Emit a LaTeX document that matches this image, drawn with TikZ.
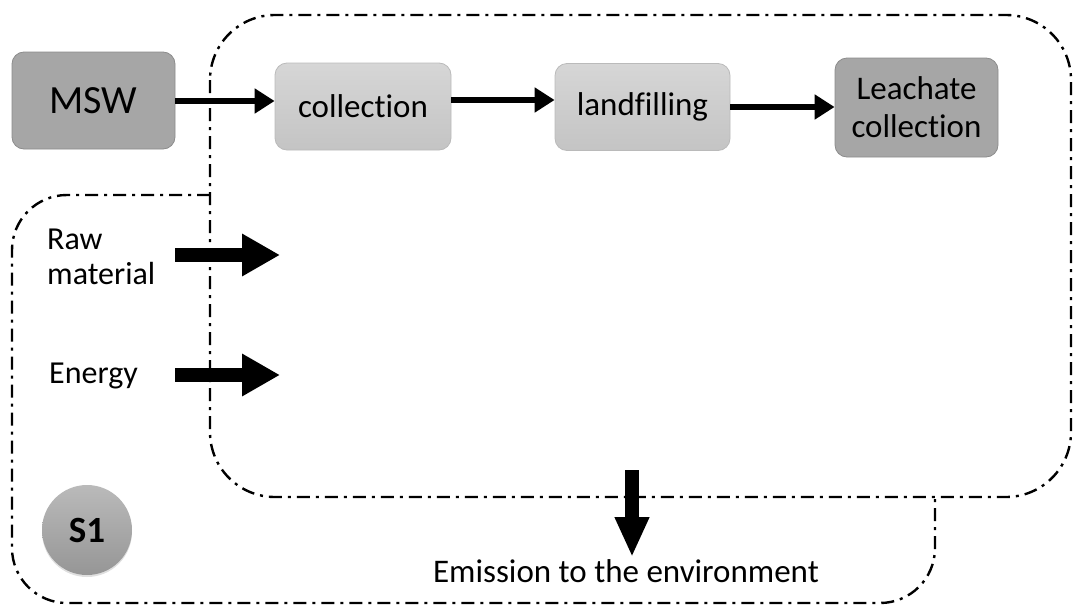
\documentclass[tikz,border=0pt]{standalone}
\usepackage{fontspec}
\setmainfont[Ligatures=NoCommon]{Carlito}
\usetikzlibrary{arrows.meta,shadows}
\definecolor{darkbox}{RGB}{166,166,166}
\definecolor{lighttop}{RGB}{214,214,214}
\definecolor{lightbot}{RGB}{196,196,196}
\definecolor{boxline}{RGB}{140,140,140}
\definecolor{circtop}{RGB}{186,186,186}
\definecolor{circbot}{RGB}{150,150,150}
\tikzset{
  dd/.style={line width=2.4pt, dash pattern=on 13pt off 6pt on 3pt off 6pt},
  darkstep/.style={draw=boxline, line width=0.8pt, fill=darkbox, rounded corners=12pt, inner sep=0pt, align=center},
  lightstep/.style={draw=boxline!60, line width=0.8pt, top color=lighttop, bottom color=lightbot, rounded corners=12pt, inner sep=0pt, align=center},
  flow/.style={line width=6pt, -{Triangle[length=20pt,width=24pt]}},
  bigflow/.style={line width=14pt, -{Triangle[length=38pt,width=40pt]}},
  lbl/.style={font=\fontsize{32}{35}\selectfont, align=left, inner sep=0pt},
}
\begin{document}
\begin{tikzpicture}[x=1pt,y=-1pt]
\useasboundingbox (0,0) rectangle (1073,608);
% boundaries
\draw[dd, rounded corners=65pt] (210,15) rectangle (1071,497);
\draw[dd, rounded corners=55pt] (210,195) -- (12,195) -- (12,603) -- (935,603) -- (935,497);
% process boxes
\node[darkstep, minimum width=163pt, minimum height=97pt, font=\fontsize{40}{44}\selectfont] (msw) at (93.5,100.5) {MSW};
\node[lightstep, minimum width=176pt, minimum height=87pt, font=\fontsize{33}{38}\selectfont] (coll) at (363,106.5) {collection};
\node[lightstep, minimum width=175pt, minimum height=87pt, font=\fontsize{33}{38}\selectfont] (land) at (642.5,107) {landfilling};
\node[darkstep, minimum width=163pt, minimum height=99pt, font=\fontsize{33}{38}\selectfont] (leach) at (916.5,107.5) {Leachate\\collection};
% connectors
\draw[flow] (msw.east |- 0,101) -- (coll.west |- 0,101);
\draw[flow] (coll.east |- 0,100) -- (land.west |- 0,100);
\draw[flow] (land.east |- 0,107) -- (leach.west |- 0,107);
% inputs
\node[lbl, anchor=west] (raw) at (47,257) {Raw\\material};
\node[lbl, anchor=west] (energy) at (49,376) {Energy};
\coordinate (rawS) at (175,255);
\coordinate (rawE) at (280,255);
\coordinate (enS) at (175,375);
\coordinate (enE) at (280,375);
\draw[bigflow] (rawS) -- (rawE);
\draw[bigflow] (enS) -- (enE);
% emission
\node[lbl, anchor=north, font=\fontsize{33}{38}\selectfont] (emis) at (626,559) {Emission to the environment};
\coordinate (emS) at (632,470);
\coordinate (emE) at (632,557);
\draw[line width=14pt, -{Triangle[length=40pt,width=32pt]}] (emS) -- (emE);
% S1
\node[circle, minimum size=90pt, inner sep=0pt, top color=circtop, bottom color=circbot,
      drop shadow={shadow xshift=0pt, shadow yshift=-2pt, opacity=0.25},
      font=\bfseries\fontsize{37}{40}\selectfont] (s1) at (87,530) {S1};
\end{tikzpicture}
\end{document}
